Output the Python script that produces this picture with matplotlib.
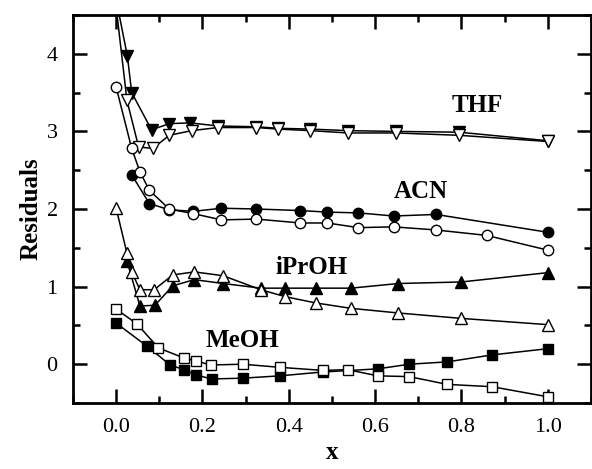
import matplotlib
matplotlib.use("Agg")
import matplotlib.pyplot as plt
from matplotlib.ticker import MultipleLocator

plt.rcParams['font.family'] = ['Liberation Serif', 'DejaVu Serif']

# THF
thf_fill_x = [0.0, 0.026, 0.036, 0.082, 0.123, 0.171, 0.236, 0.325, 0.375, 0.45, 0.537, 0.648, 0.794, 1.0]
thf_fill_y = [4.70, 3.97, 3.50, 3.02, 3.10, 3.11, 3.07, 3.06, 3.04, 3.03, 3.01, 3.00, 2.99, 2.88]
thf_open_x = [0.0, 0.025, 0.052, 0.085, 0.123, 0.175, 0.236, 0.325, 0.375, 0.45, 0.537, 0.648, 0.794, 1.0]
thf_open_y = [4.60, 3.40, 2.80, 2.78, 2.95, 3.01, 3.05, 3.05, 3.03, 3.01, 2.98, 2.98, 2.95, 2.87]

# ACN
acn_fill_x = [0.036, 0.077, 0.123, 0.179, 0.244, 0.325, 0.427, 0.489, 0.561, 0.643, 0.741, 1.0]
acn_fill_y = [2.44, 2.07, 1.99, 1.97, 2.01, 2.00, 1.98, 1.96, 1.95, 1.91, 1.93, 1.70]
acn_open_x = [0.0, 0.036, 0.055, 0.077, 0.123, 0.179, 0.244, 0.325, 0.427, 0.489, 0.561, 0.643, 0.741, 0.858, 1.0]
acn_open_y = [3.57, 2.78, 2.48, 2.24, 2.00, 1.94, 1.86, 1.87, 1.82, 1.82, 1.76, 1.77, 1.73, 1.66, 1.47]

# iPrOH
ipr_fill_x = [0.025, 0.055, 0.09, 0.131, 0.181, 0.248, 0.335, 0.392, 0.462, 0.544, 0.654, 0.8, 1.0]
ipr_fill_y = [1.33, 0.75, 0.76, 1.01, 1.09, 1.04, 0.98, 0.98, 0.98, 0.98, 1.04, 1.06, 1.18]
ipr_open_x = [0.0, 0.025, 0.036, 0.055, 0.088, 0.131, 0.181, 0.248, 0.335, 0.392, 0.462, 0.544, 0.654, 0.8, 1.0]
ipr_open_y = [2.01, 1.43, 1.19, 0.96, 0.96, 1.15, 1.19, 1.14, 0.96, 0.87, 0.79, 0.72, 0.66, 0.59, 0.51]

# MeOH
meoh_fill_x = [0.0, 0.072, 0.125, 0.157, 0.186, 0.221, 0.293, 0.379, 0.479, 0.606, 0.679, 0.767, 0.871, 1.0]
meoh_fill_y = [0.53, 0.23, -0.01, -0.07, -0.14, -0.19, -0.18, -0.15, -0.10, -0.06, 0.00, 0.03, 0.12, 0.20]
meoh_open_x = [0.0, 0.048, 0.098, 0.157, 0.186, 0.219, 0.293, 0.379, 0.479, 0.536, 0.606, 0.679, 0.767, 0.871, 1.0]
meoh_open_y = [0.71, 0.52, 0.21, 0.08, 0.04, -0.01, 0.00, -0.04, -0.08, -0.07, -0.15, -0.16, -0.26, -0.29, -0.42]

labels = ["THF", "ACN", "iPrOH", "MeOH"]
label_x = [0.836, 0.707, 0.453, 0.292]
label_y = [3.34, 2.23, 1.25, 0.31]

fig = plt.figure(figsize=(5.92, 4.69), dpi=100)
ax = fig.add_axes([0.1233, 0.1407, 0.8750, 0.8273])

series = [
    (thf_fill_x, thf_fill_y, 'v', 'black', 9),
    (thf_open_x, thf_open_y, 'v', 'white', 9),
    (acn_fill_x, acn_fill_y, 'o', 'black', 7.5),
    (acn_open_x, acn_open_y, 'o', 'white', 7.5),
    (ipr_fill_x, ipr_fill_y, '^', 'black', 9),
    (ipr_open_x, ipr_open_y, '^', 'white', 9),
    (meoh_fill_x, meoh_fill_y, 's', 'black', 6.5),
    (meoh_open_x, meoh_open_y, 's', 'white', 6.5),
]
for xs, ys, mk, fc, ms in series:
    ax.plot(xs, ys, color='black', lw=1.1, marker=mk, ms=ms,
            mfc=fc, mec='black', mew=1.0)

for t, tx, ty in zip(labels, label_x, label_y):
    ax.text(tx, ty, t, fontsize=18, fontweight='bold', ha='center', va='center')

ax.set_xlim(-0.1, 1.1)
ax.set_ylim(-0.5, 4.5)
ax.xaxis.set_major_locator(MultipleLocator(0.2))
ax.xaxis.set_minor_locator(MultipleLocator(0.1))
ax.yaxis.set_major_locator(MultipleLocator(1))
ax.yaxis.set_minor_locator(MultipleLocator(0.5))
ax.xaxis.set_major_formatter(plt.FormatStrFormatter('%.1f'))
ax.tick_params(which='both', direction='in', top=True, right=True, width=1.8)
ax.tick_params(which='major', length=10, labelsize=16, pad=11)
ax.tick_params(which='minor', length=5)
for sp in ax.spines.values():
    sp.set_linewidth(2)

ax.set_xlabel('x', fontsize=18, fontweight='bold', labelpad=3)
ax.set_ylabel('Residuals', fontsize=18, fontweight='bold', labelpad=3)

fig.savefig('out.png', dpi=100)
